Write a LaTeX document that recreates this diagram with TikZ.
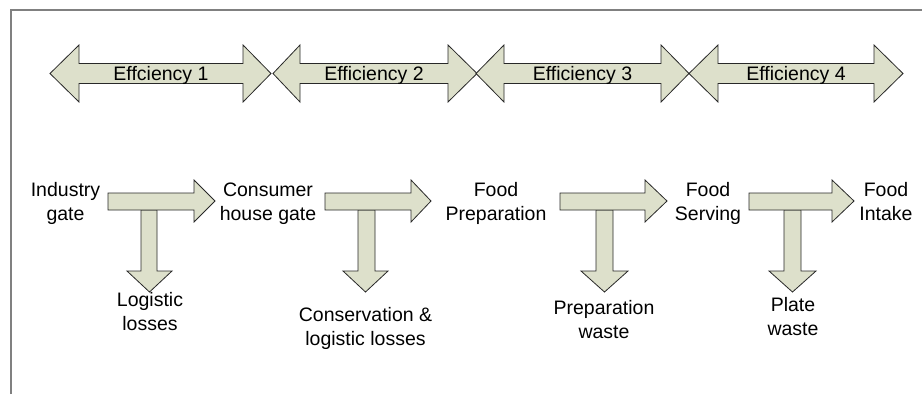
\documentclass[tikz,border=0pt]{standalone}
\usepackage{fontspec}
\setmainfont{Liberation Sans}
\definecolor{arrfill}{RGB}{221,224,203}
\definecolor{arrline}{RGB}{40,40,40}
\definecolor{framegray}{RGB}{128,128,128}
\tikzset{
  shapearrow/.style={fill=arrfill,draw=arrline,line width=0.8pt,line join=miter},
  lbl/.style={font=\fontsize{19.5}{24}\selectfont,align=center,inner sep=0pt,anchor=base},
}
% double arrow: left tip, left base, right base, right tip, name, text
\newcommand{\dblarr}[6]{%
  \draw[shapearrow] (#1,73.5) -- (#2,45) -- (#2,63.5) -- (#3,63.5) -- (#3,45) -- (#4,73.5)
     -- (#3,102) -- (#3,83.5) -- (#2,83.5) -- (#2,102) -- cycle;
  \node[lbl] (#5) at ({(#2+#3)/2},80.5) {#6};}
% right arrow: shaft left, head base, tip
\newcommand{\rarr}[3]{%
  \draw[shapearrow] (#1,193) -- (#2,193) -- (#2,180) -- (#3,201) -- (#2,222) -- (#2,210) -- (#1,210) -- cycle;}
% down arrow: shaft left, shaft right, head left, head right
\newcommand{\darr}[4]{%
  \draw[shapearrow] (#1,210) -- (#2,210) -- (#2,271) -- (#4,271) -- ({(#3+#4)/2},292) -- (#3,271) -- (#1,271) -- cycle;}
\begin{document}
\begin{tikzpicture}[x=1pt,y=-1pt]
\useasboundingbox (0,0) rectangle (922,394);
\fill[white] (0,0) rectangle (922,394);
\draw[framegray,line width=1.5pt] (11,394) -- (11,10) -- (922,10);

\dblarr{50}{79}{243}{271}{e1}{Effciency 1}
\dblarr{273}{300}{448}{477}{e2}{Efficiency 2}
\dblarr{476}{504}{661}{689}{e3}{Efficiency 3}
\dblarr{689}{718}{874}{903}{e4}{Efficiency 4}

\darr{141}{157}{127}{172}
\darr{358}{375}{343}{388}
\darr{596}{613}{581}{628}
\darr{784}{801}{769}{816}

\rarr{108}{194}{215}
\rarr{325}{411}{431}
\rarr{560}{645}{667}
\rarr{749}{832}{854}

\node[lbl] (ind) at (65.5,220) {Industry\\gate};
\node[lbl] (con) at (268,220) {Consumer\\house gate};
\node[lbl] (prep) at (496,220) {Food\\Preparation};
\node[lbl] (serv) at (708,220) {Food\\Serving};
\node[lbl] (intk) at (886,220) {Food\\Intake};

\node[lbl] (l1) at (150,330) {Logistic\\losses};
\node[lbl] (l2) at (365.5,345) {Conservation \&\\logistic losses};
\node[lbl] (l3) at (604,338) {Preparation\\waste};
\node[lbl] (l4) at (793,335) {Plate\\waste};
\end{tikzpicture}
\end{document}
